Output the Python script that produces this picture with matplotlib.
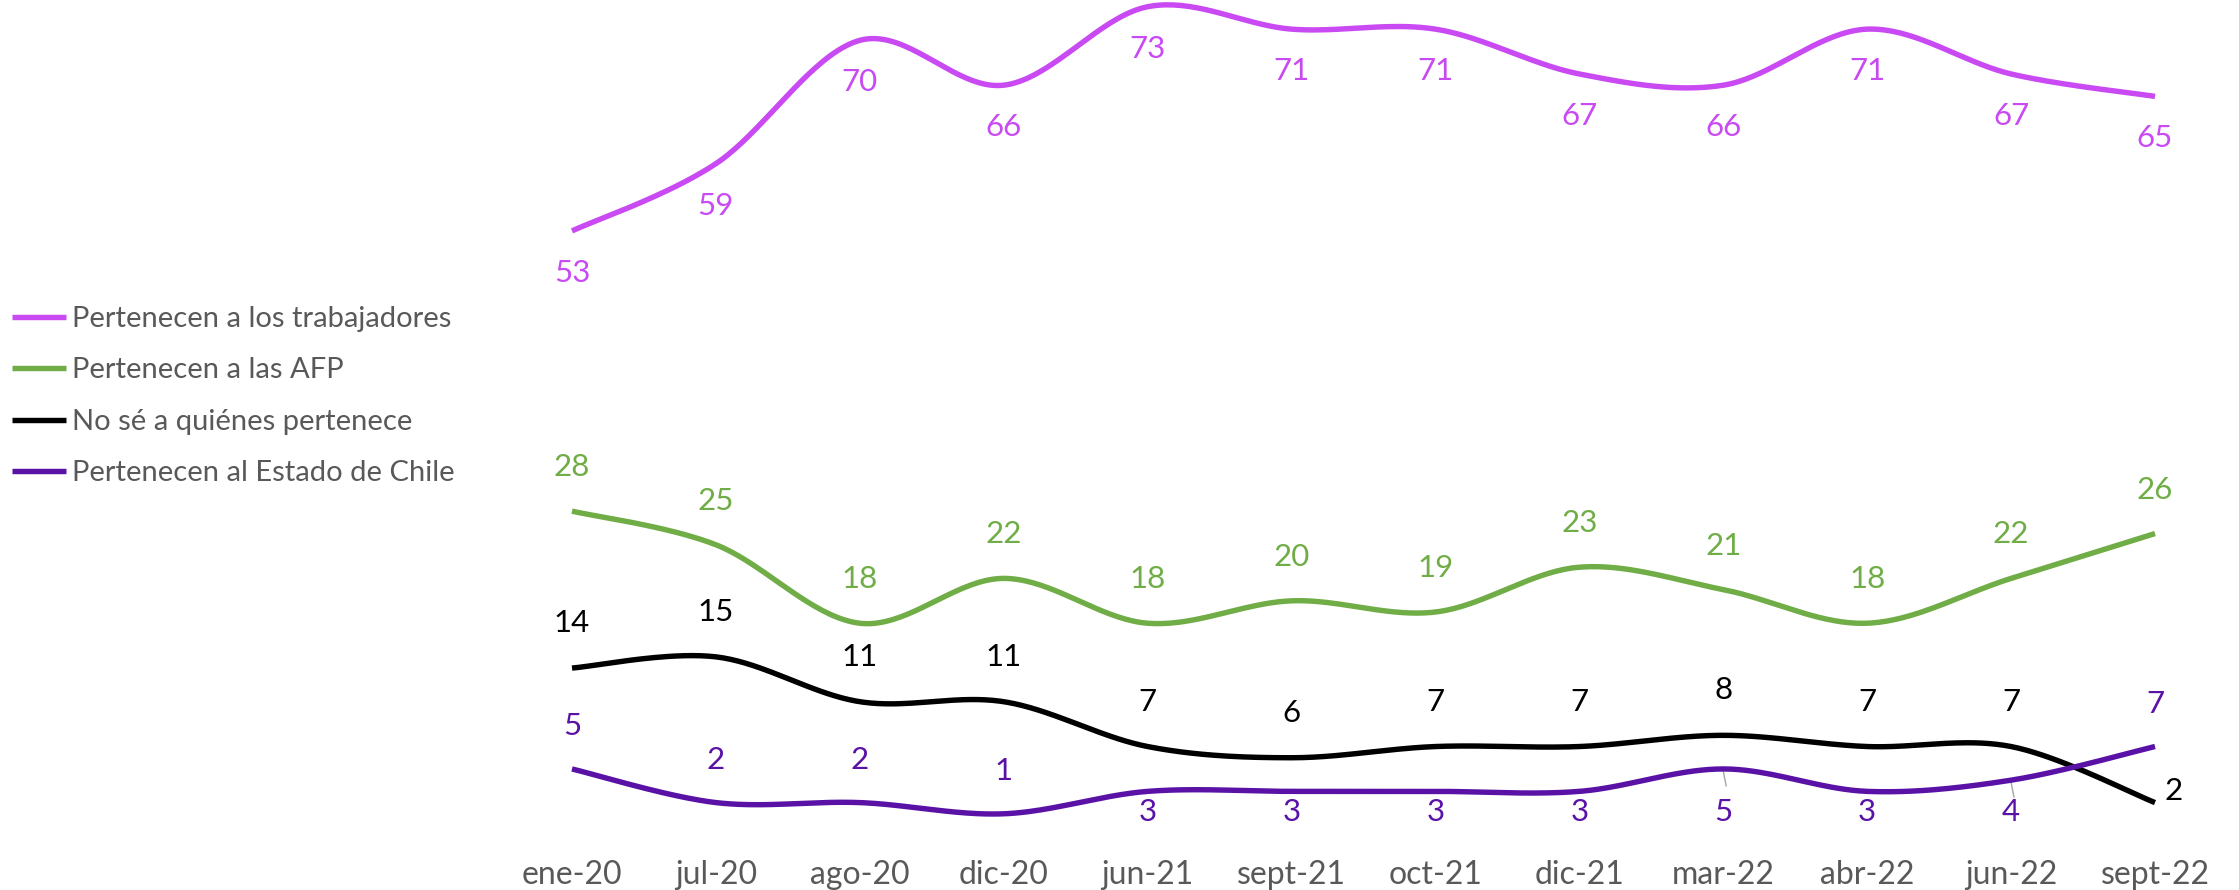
import numpy as np
import matplotlib
matplotlib.use("Agg")
import matplotlib.pyplot as plt

plt.rcParams['font.family'] = ['Lato', 'DejaVu Sans']

categories = ['ene-20', 'jul-20', 'ago-20', 'dic-20', 'jun-21', 'sept-21',
              'oct-21', 'dic-21', 'mar-22', 'abr-22', 'jun-22', 'sept-22']
trabajadores = [53, 59, 70, 66, 73, 71, 71, 67, 66, 71, 67, 65]
afp = [28, 25, 18, 22, 18, 20, 19, 23, 21, 18, 22, 26]
no_se = [14, 15, 11, 11, 7, 6, 7, 7, 8, 7, 7, 2]
estado = [5, 2, 2, 1, 3, 3, 3, 3, 5, 3, 4, 7]

series_names = ['Pertenecen a los trabajadores', 'Pertenecen a las AFP',
                'No sé a quiénes pertenece', 'Pertenecen al Estado de Chile']

C_TRAB = '#C949F2'
C_AFP = '#70AD47'
C_NOSE = '#000000'
C_EST = '#5A12A6'
GREY = '#595959'


def smooth(vals, n=40):
    pts = np.column_stack([np.arange(len(vals)), np.asarray(vals, float)])
    ext = np.vstack([pts[0], pts, pts[-1]])
    out = []
    t = np.linspace(0, 1, n)[:, None]
    for i in range(len(pts) - 1):
        p0, p1, p2, p3 = ext[i], ext[i + 1], ext[i + 2], ext[i + 3]
        c1 = p1 + (p2 - p0) / 6.0
        c2 = p2 - (p3 - p1) / 6.0
        seg = (1 - t) ** 3 * p1 + 3 * (1 - t) ** 2 * t * c1 + 3 * (1 - t) * t ** 2 * c2 + t ** 3 * p2
        out.append(seg if i == 0 else seg[1:])
    return np.vstack(out)


W, H = 2239, 890
fig = plt.figure(figsize=(W / 100, H / 100), dpi=100)
ax_left, ax_right = 572, 2155
ax_bottom_px = 825  # from top
ax = fig.add_axes([ax_left / W, (H - ax_bottom_px) / H, (ax_right - ax_left) / W, ax_bottom_px / H])
ax.set_xlim(0, len(categories) - 1)
ax.set_ylim(0, 73.6)
for s in ax.spines.values():
    s.set_visible(False)
ax.set_yticks([])
ax.set_xticks(range(len(categories)))
ax.set_xticklabels(categories, fontsize=23, color=GREY)
ax.tick_params(axis='x', length=0, pad=25)

PX2PT = 72 / 100.0
LFS = 22.5

all_series = [(trabajadores, C_TRAB), (afp, C_AFP), (no_se, C_NOSE), (estado, C_EST)]
for (vals, col), name in zip(all_series, series_names):
    curve = smooth(vals)
    ax.plot(curve[:, 0], curve[:, 1], color=col, lw=3.9, clip_on=False,
            solid_capstyle='butt', label=name)

# labels: trabajadores below
for i, v in enumerate(trabajadores):
    ax.annotate(str(v), (i, v), xytext=(0, -42 * PX2PT), textcoords='offset points',
                ha='center', va='center', fontsize=LFS, color=C_TRAB, annotation_clip=False)
# AFP above
for i, v in enumerate(afp):
    ax.annotate(str(v), (i, v), xytext=(0, 44 * PX2PT), textcoords='offset points',
                ha='center', va='center', fontsize=LFS, color=C_AFP, annotation_clip=False)
# No sé above, last to the right
for i, v in enumerate(no_se):
    if i == len(no_se) - 1:
        ax.annotate(str(v), (i, v), xytext=(10 * PX2PT, 12 * PX2PT), textcoords='offset points',
                    ha='left', va='center', fontsize=LFS, color=C_NOSE, annotation_clip=False)
    else:
        ax.annotate(str(v), (i, v), xytext=(0, 45 * PX2PT), textcoords='offset points',
                    ha='center', va='center', fontsize=LFS, color=C_NOSE, annotation_clip=False)
# Estado: above for first four and last, below otherwise
below_y = 1.16
for i, v in enumerate(estado):
    if i <= 3 or i == len(estado) - 1:
        ax.annotate(str(v), (i, v), xytext=(0, 43 * PX2PT), textcoords='offset points',
                    ha='center', va='center', fontsize=LFS, color=C_EST, annotation_clip=False)
    else:
        ax.text(i, below_y, str(v), ha='center', va='center', fontsize=LFS, color=C_EST, clip_on=False)
# leader lines
for i in (8, 10):
    v = estado[i]
    ax.plot([i, i + 0.02], [v - 0.2, v - 1.5], color='#A6A6A6', lw=1.0, clip_on=False, zorder=1)

handles, labels = ax.get_legend_handles_labels()
leg = fig.legend(handles, labels, loc='upper left',
                 bbox_to_anchor=(12 / W, 1 - 306 / H), frameon=False,
                 fontsize=21, handlelength=1.85, handletextpad=0.2,
                 labelspacing=0.87, borderpad=0, borderaxespad=0)
for t in leg.get_texts():
    t.set_color(GREY)

fig.savefig('out.png', dpi=100)
